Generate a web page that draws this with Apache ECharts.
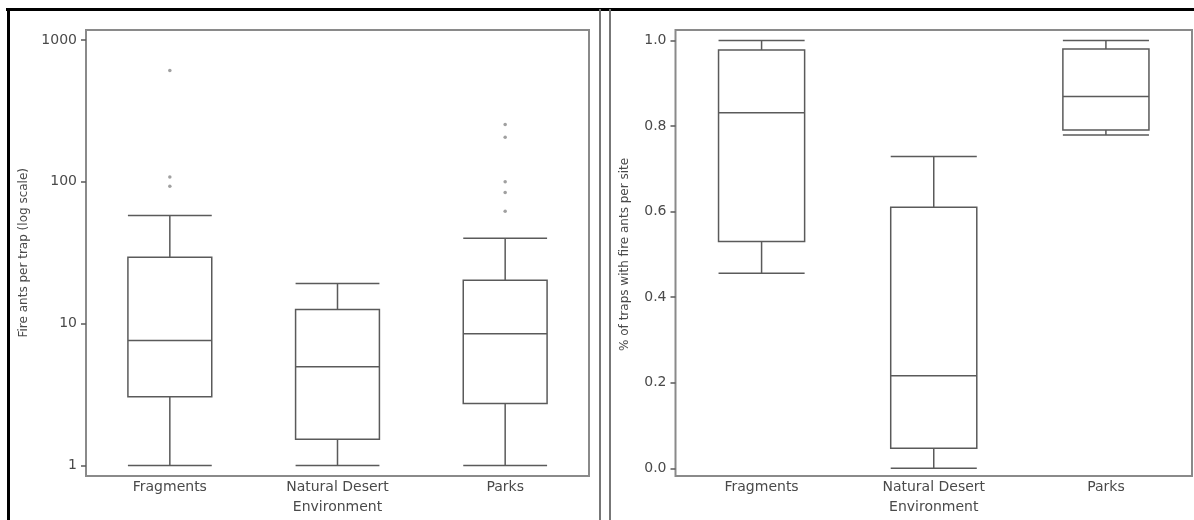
<!DOCTYPE html>
<html><head><meta charset="utf-8">
<script src="https://cdn.jsdelivr.net/npm/echarts@6/dist/echarts.min.js"></script>
<style>html,body{margin:0;padding:0;background:#fff}#c{width:1194px;height:520px}</style>
</head><body><div id="c"></div>
<script>
// ---- data ----
const categories = ['Fragments', 'Natural Desert\nEnvironment', 'Parks'];
// [min, Q1, median, Q3, max]
const antsBox = [
  [1, 3.05, 7.6, 29.4, 58],
  [1, 1.53, 4.97, 12.6, 19.2],
  [1, 2.74, 8.5, 20.2, 40]
];
const antsOutlierCats = [0, 0, 0, 2, 2, 2, 2, 2];
const antsOutlierVals = [610, 108, 93, 254, 206, 100, 84, 62];
const trapsBox = [
  [0.456, 0.530, 0.831, 0.978, 1.0],
  [0.0, 0.047, 0.2165, 0.610, 0.729],
  [0.779, 0.791, 0.869, 0.980, 1.0]
];
const antsTickLabels = ['1', '10', '100', '1000'];
const trapsTickLabels = ['0.0', '0.2', '0.4', '0.6', '0.8', '1.0'];
const antsTitle = 'Fire ants per trap (log scale)';
const trapsTitle = '% of traps with fire ants per site';

// ---- chart ----
const FONT = 'DejaVu Sans';
const TXT = '#4a4a4a';
const LINE = '#5a5a5a';
const FRAME = '#8a8a8a';

const chart = echarts.init(document.getElementById('c'), null, {renderer: 'canvas'});

const frameGrid = (left, width) => ({
  left: left, top: 30, width: width, height: 446,
  show: true, borderColor: FRAME, borderWidth: 2, backgroundColor: 'transparent'
});

const catAxis = (gi, margin) => ({
  type: 'category', gridIndex: gi, data: categories, boundaryGap: true,
  axisLine: {show: false}, axisTick: {show: false}, splitLine: {show: false},
  axisLabel: {color: TXT, fontFamily: FONT, fontSize: 14, lineHeight: 20, margin: margin, interval: 0}
});

const hiddenAxis = (gi) => ({type: 'value', gridIndex: gi, show: false});

chart.setOption({
  backgroundColor: '#fff',
  animation: false,
  grid: [
    {left: 86, top: 40, width: 503, height: 425.5},      // 0 left axes
    frameGrid(86, 503),                                   // 1 left frame
    {left: 675.5, top: 40.5, width: 516.5, height: 427.8},// 2 right axes
    frameGrid(675.5, 516.5)                               // 3 right frame
  ],
  xAxis: [
    catAxis(0, 12),
    hiddenAxis(1),
    catAxis(2, 9),
    hiddenAxis(3)
  ],
  yAxis: [
    {
      type: 'log', gridIndex: 0, logBase: 10, min: 1, max: 1000,
      axisLine: {show: false},
      axisTick: {show: true, length: 5, lineStyle: {color: LINE, width: 1.5}},
      minorTick: {show: false},
      splitLine: {show: false},
      axisLabel: {color: TXT, fontFamily: FONT, fontSize: 14, margin: 9,
        formatter: v => antsTickLabels[Math.round(Math.log10(v))]},
      name: antsTitle, nameLocation: 'middle', nameRotate: 90, nameGap: 56,
      nameTextStyle: {color: TXT, fontFamily: FONT, fontSize: 12}
    },
    hiddenAxis(1),
    {
      type: 'value', gridIndex: 2, min: 0, max: 1, interval: 0.2,
      axisLine: {show: false},
      axisTick: {show: true, length: 5, lineStyle: {color: LINE, width: 1.5}},
      splitLine: {show: false},
      axisLabel: {color: TXT, fontFamily: FONT, fontSize: 14, margin: 9,
        formatter: v => trapsTickLabels[Math.round(v / 0.2)]},
      name: trapsTitle, nameLocation: 'middle', nameRotate: 90, nameGap: 45,
      nameTextStyle: {color: TXT, fontFamily: FONT, fontSize: 12}
    },
    hiddenAxis(3)
  ],
  graphic: [
    {type: 'line', shape: {x1: 6, y1: 9.5, x2: 1194, y2: 9.5}, style: {stroke: '#000', lineWidth: 3}},
    {type: 'line', shape: {x1: 8.5, y1: 8, x2: 8.5, y2: 520}, style: {stroke: '#000', lineWidth: 3}},
    {type: 'line', shape: {x1: 600, y1: 9, x2: 600, y2: 520}, style: {stroke: '#777', lineWidth: 2}},
    {type: 'line', shape: {x1: 610, y1: 9, x2: 610, y2: 520}, style: {stroke: '#777', lineWidth: 2}}
  ],
  series: [
    {
      type: 'boxplot', xAxisIndex: 0, yAxisIndex: 0, data: antsBox,
      boxWidth: ['50%', '50%'],
      itemStyle: {color: 'transparent', borderColor: LINE, borderWidth: 1.5}
    },
    {
      type: 'scatter', xAxisIndex: 0, yAxisIndex: 0,
      data: antsOutlierVals.map((v, i) => [antsOutlierCats[i], v]),
      symbol: 'circle', symbolSize: 3.5,
      itemStyle: {color: '#888'}
    },
    {
      type: 'boxplot', xAxisIndex: 2, yAxisIndex: 2, data: trapsBox,
      boxWidth: ['50%', '50%'],
      itemStyle: {color: 'transparent', borderColor: LINE, borderWidth: 1.5}
    }
  ]
});
</script>
</body></html>
